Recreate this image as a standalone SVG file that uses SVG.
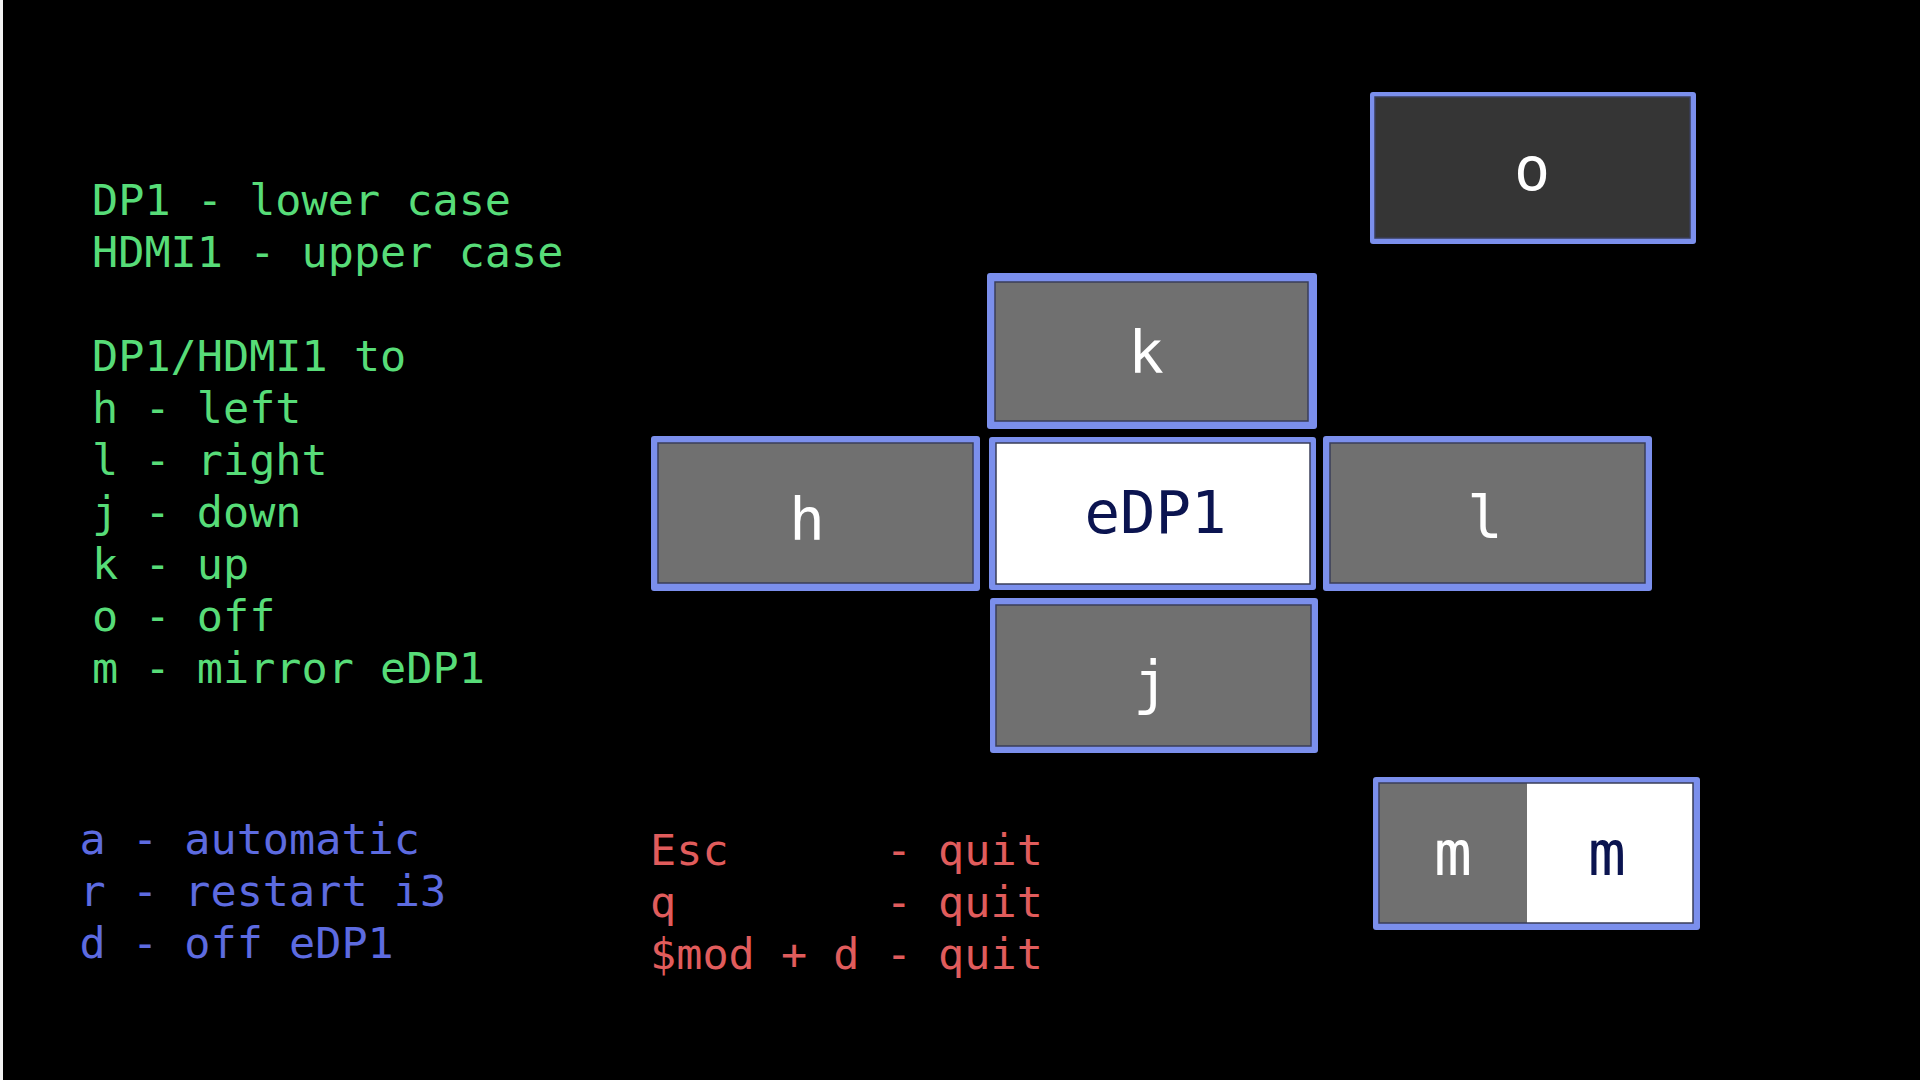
<svg xmlns="http://www.w3.org/2000/svg" width="1920" height="1080" viewBox="0 0 1920 1080">
<style>
  text { font-family: "DejaVu Sans Mono", "Liberation Mono", monospace; white-space: pre; }
  .frame { fill: #7b8fec; }
  .gray { fill: #707070; stroke: #3a3e58; stroke-width: 1.5; }
  .dark { fill: #353535; stroke: #3a3e58; stroke-width: 1.5; }
  .white { fill: #ffffff; stroke: #3a3e58; stroke-width: 1.5; }
  .lbl { fill: #ffffff; font-size: 59px; text-anchor: middle; }
  .lbln { fill: #0b1450; font-size: 59px; text-anchor: middle; }
  .green { fill: #57dc78; font-size: 43.5px; }
  .blue { fill: #5d6be0; font-size: 43.5px; }
  .red { fill: #e05c5c; font-size: 43.5px; }
</style>
<rect x="0" y="0" width="1920" height="1080" fill="#000000"/>
<rect x="0" y="0" width="3" height="1080" fill="#f2f2f2"/>

<g id="legend-green">
  <text class="green" x="92" y="215">DP1 - lower case</text>
  <text class="green" x="92" y="267">HDMI1 - upper case</text>
  <text class="green" x="92" y="371">DP1/HDMI1 to</text>
  <text class="green" x="92" y="423">h - left</text>
  <text class="green" x="92" y="475">l - right</text>
  <text class="green" x="92" y="527">j - down</text>
  <text class="green" x="92" y="579">k - up</text>
  <text class="green" x="92" y="631">o - off</text>
  <text class="green" x="92" y="683">m - mirror eDP1</text>
</g>

<g id="legend-blue">
  <text class="blue" x="79.5" y="854">a - automatic</text>
  <text class="blue" x="79.5" y="906">r - restart i3</text>
  <text class="blue" x="79.5" y="957.5">d - off eDP1</text>
</g>

<g id="legend-red">
  <text class="red" x="650" y="865" xml:space="preserve">Esc      - quit</text>
  <text class="red" x="650" y="917" xml:space="preserve">q        - quit</text>
  <text class="red" x="650" y="969" xml:space="preserve">$mod + d - quit</text>
</g>

<g id="node-o">
  <rect class="frame" x="1370" y="92" width="326" height="152" rx="3"/>
  <rect class="dark" x="1375" y="97" width="315" height="141"/>
  <text class="lbl" style="font-size:60px" x="1532" y="190">o</text>
</g>

<g id="node-k">
  <rect class="frame" x="987" y="273" width="330" height="156" rx="3"/>
  <rect class="gray" x="995" y="282" width="313" height="139"/>
  <text class="lbl" x="1146" y="373">k</text>
</g>

<g id="node-h">
  <rect class="frame" x="651" y="436" width="329" height="155" rx="3"/>
  <rect class="gray" x="658" y="443" width="315" height="140"/>
  <text class="lbl" x="807" y="540">h</text>
</g>

<g id="node-edp1">
  <rect class="frame" x="989" y="437" width="327" height="153" rx="3"/>
  <rect class="white" x="996" y="443" width="314" height="141"/>
  <text class="lbln" x="1155.5" y="533">eDP1</text>
</g>

<g id="node-l">
  <rect class="frame" x="1323" y="436" width="329" height="155" rx="3"/>
  <rect class="gray" x="1330" y="443" width="315" height="140"/>
  <text class="lbl" x="1485" y="538">l</text>
</g>

<g id="node-j">
  <rect class="frame" x="990" y="598" width="328" height="155" rx="3"/>
  <rect class="gray" x="996" y="605" width="315" height="141"/>
  <text class="lbl" x="1151" y="703">j</text>
</g>

<g id="node-m">
  <rect class="frame" x="1373" y="777" width="327" height="153" rx="3"/>
  <rect class="gray" x="1379" y="783" width="148" height="140" style="stroke:none"/>
  <rect class="white" x="1527" y="783" width="166" height="140" style="stroke:none"/>
  <rect x="1379" y="783" width="314" height="140" fill="none" stroke="#3a3e58" stroke-width="1.5"/>
  <text class="lbl" style="font-size:63px" x="1453" y="875">m</text>
  <text class="lbln" style="font-size:63px" x="1607" y="875">m</text>
</g>

<g id="connectors"></g>
</svg>
